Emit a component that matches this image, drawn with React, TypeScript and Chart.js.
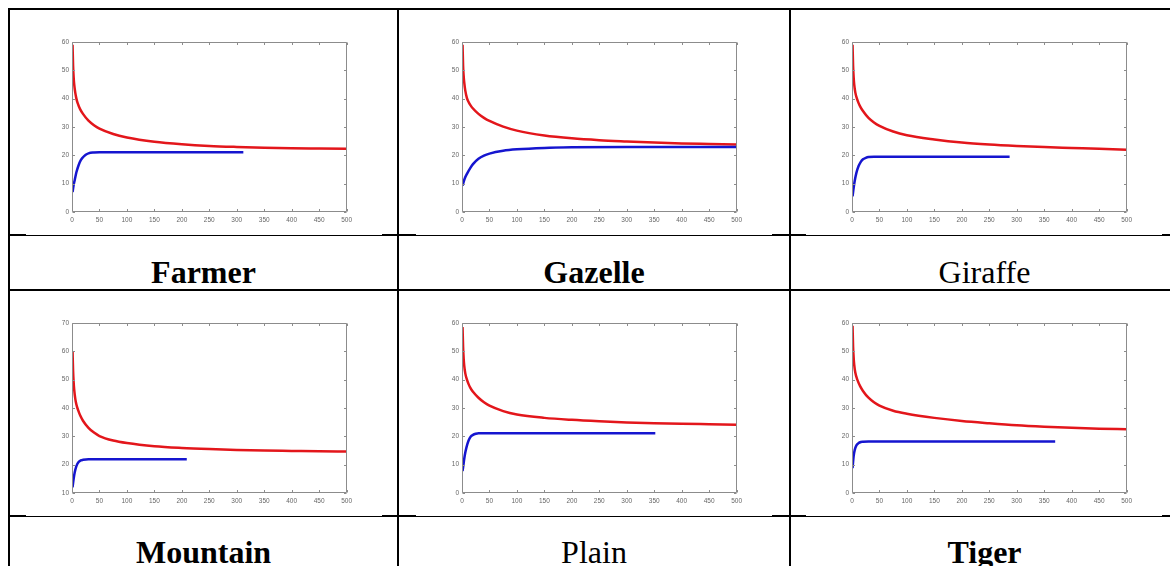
import React, { useEffect, useRef } from 'react';
import { Chart, registerables } from 'chart.js';

Chart.register(...registerables);

type Pt = [number, number];

// ---- tick values ----
const xTicks = [0, 50, 100, 150, 200, 250, 300, 350, 400, 450, 500];
const yTicks60 = [0, 10, 20, 30, 40, 50, 60];
const yTicks70 = [10, 20, 30, 40, 50, 60, 70];

// ---- series (x, y) ----
const farmerRed: Pt[] = [[1, 59], [2, 51.5], [3, 47.5], [4, 45], [6, 42], [8, 40], [10, 38.6], [15, 36.2], [20, 34.6], [30, 32.2], [40, 30.6], [50, 29.4], [75, 27.5], [100, 26.3], [150, 24.8], [200, 23.9], [250, 23.3], [300, 22.95], [350, 22.7], [400, 22.5], [450, 22.4], [500, 22.3]];
const farmerBlue: Pt[] = [[1, 7], [3, 9.5], [5, 11.3], [8, 14], [12, 16.5], [16, 18.3], [20, 19.3], [25, 20.2], [30, 20.7], [40, 21.0], [50, 21.1], [100, 21.1], [200, 21.1], [312, 21.1]];

const gazelleRed: Pt[] = [[1, 59], [2, 51.5], [3, 48], [4, 45.8], [6, 42.8], [9, 40.2], [12, 38.8], [15, 37.8], [20, 36.5], [30, 34.6], [40, 33.2], [50, 32.1], [75, 30.1], [100, 28.7], [150, 27.0], [200, 26.0], [250, 25.35], [300, 24.9], [350, 24.5], [400, 24.2], [450, 24.0], [500, 23.8]];
const gazelleBlue: Pt[] = [[1, 9.3], [5, 11.8], [10, 13.8], [15, 15.5], [20, 16.9], [30, 18.8], [40, 19.9], [50, 20.6], [75, 21.6], [100, 22.1], [150, 22.6], [200, 22.8], [300, 22.9], [400, 22.9], [500, 22.9]];

const giraffeRed: Pt[] = [[1, 59], [2, 51.5], [3, 47.5], [4, 45], [6, 42.2], [9, 40], [12, 38.4], [15, 37.2], [20, 35.6], [30, 33.2], [40, 31.6], [50, 30.4], [75, 28.4], [100, 27.1], [150, 25.6], [200, 24.5], [250, 23.8], [300, 23.3], [350, 22.9], [400, 22.6], [450, 22.3], [500, 22.0]];
const giraffeBlue: Pt[] = [[1, 5.5], [3, 8.5], [5, 11], [8, 13.8], [12, 16.2], [16, 17.7], [20, 18.6], [25, 19.1], [30, 19.4], [40, 19.5], [287, 19.5]];

const mountainRed: Pt[] = [[1, 60], [2, 53], [3, 49], [4, 46.5], [6, 43.2], [8, 41.2], [11, 39.3], [15, 37.3], [20, 35.5], [30, 33.0], [40, 31.3], [50, 30.1], [75, 28.5], [100, 27.6], [150, 26.5], [200, 25.9], [250, 25.5], [300, 25.2], [350, 25.0], [400, 24.85], [450, 24.7], [500, 24.6]];
const mountainBlue: Pt[] = [[1, 12], [3, 15], [5, 17.3], [8, 19.5], [12, 20.9], [16, 21.5], [20, 21.7], [30, 21.9], [209, 21.9]];

const plainRed: Pt[] = [[1, 58.5], [2, 51.5], [3, 47.5], [4, 45], [6, 42.2], [9, 40], [12, 38.4], [15, 37.2], [20, 35.7], [30, 33.6], [40, 32.0], [50, 30.8], [75, 28.9], [100, 27.7], [150, 26.5], [200, 25.8], [250, 25.3], [300, 24.9], [350, 24.6], [400, 24.4], [450, 24.25], [500, 24.1]];
const plainBlue: Pt[] = [[1, 7.7], [3, 10.5], [5, 13.2], [8, 16], [12, 18.5], [16, 19.9], [20, 20.5], [25, 20.9], [30, 21.1], [352, 21.1]];

const tigerRed: Pt[] = [[1, 59], [2, 51.5], [3, 47.8], [4, 45.3], [6, 42.5], [10, 39.8], [15, 37.6], [20, 36.0], [30, 33.6], [40, 32.0], [50, 30.8], [75, 29.0], [100, 27.95], [150, 26.5], [200, 25.4], [250, 24.6], [300, 23.9], [350, 23.4], [400, 23.0], [450, 22.7], [500, 22.5]];
const tigerBlue: Pt[] = [[1, 8.8], [3, 13], [5, 15.2], [8, 16.8], [12, 17.6], [16, 18], [20, 18.1], [30, 18.2], [370, 18.2]];

const panelNames = ['Farmer', 'Gazelle', 'Giraffe', 'Mountain', 'Plain', 'Tiger'];
const panelBold = [true, true, false, true, false, true];

// ---- styling / layout ----
const RED = '#e3161b';
const BLUE = '#1515cf';
const BOX = '#8c8c8c';
const TICK_TEXT = '#666666';
const SANS = '"Liberation Sans", Arial, sans-serif';

const Y_AXIS_W = 20;
const X_AXIS_H = 16;
const PAD_TOP = 6;
const PAD_RIGHT = 8;
const PLOT_W = 276;
const PLOT_H = 171;
const CANVAS_W = Y_AXIS_W + PLOT_W + PAD_RIGHT;
const CANVAS_H = PAD_TOP + PLOT_H + X_AXIS_H;

const colPlotLeft = [72, 462, 852];
const rowPlotTop = [41, 322];
const colCenter = [203.5, 594, 984.5];
const labelTop = [256, 536];

const boxPlugin = {
  id: 'matlabBox',
  afterDraw(chart: any) {
    const { ctx, chartArea: a, scales } = chart;
    const L = Math.round(a.left) + 0.5;
    const R = Math.round(a.right) - 0.5;
    const T = Math.round(a.top) + 0.5;
    const B = Math.round(a.bottom) - 0.5;
    ctx.save();
    ctx.strokeStyle = BOX;
    ctx.lineWidth = 1;
    ctx.beginPath();
    ctx.rect(L, T, R - L, B - T);
    const tl = 2.5;
    scales.x.ticks.forEach((t: any) => {
      const px = Math.round(scales.x.getPixelForValue(t.value)) + 0.5;
      ctx.moveTo(px, B);
      ctx.lineTo(px, B - tl);
      ctx.moveTo(px, T);
      ctx.lineTo(px, T + tl);
    });
    scales.y.ticks.forEach((t: any) => {
      const py = Math.round(scales.y.getPixelForValue(t.value)) + 0.5;
      ctx.moveTo(L, py);
      ctx.lineTo(L + tl, py);
      ctx.moveTo(R, py);
      ctx.lineTo(R - tl, py);
    });
    ctx.stroke();
    ctx.restore();
  },
};

type PanelProps = {
  red: Pt[];
  blue: Pt[];
  yTicks: number[];
  left: number;
  top: number;
};

function Panel({ red, blue, yTicks, left, top }: PanelProps) {
  const ref = useRef<HTMLCanvasElement | null>(null);
  useEffect(() => {
    if (!ref.current) return;
    const tickFont = { size: 6.5, family: SANS };
    const chart = new Chart(ref.current, {
      type: 'line',
      data: {
        datasets: [
          {
            data: blue.map(([x, y]) => ({ x, y })),
            borderColor: BLUE,
            borderWidth: 2.5,
            pointRadius: 0,
            cubicInterpolationMode: 'monotone',
            fill: false,
          },
          {
            data: red.map(([x, y]) => ({ x, y })),
            borderColor: RED,
            borderWidth: 2.5,
            pointRadius: 0,
            cubicInterpolationMode: 'monotone',
            fill: false,
          },
        ],
      },
      options: {
        animation: false,
        responsive: false,
        events: [],
        layout: { padding: { left: 0, right: PAD_RIGHT, top: PAD_TOP, bottom: 0 } },
        plugins: { legend: { display: false }, tooltip: { enabled: false } },
        scales: {
          x: {
            type: 'linear',
            min: xTicks[0],
            max: xTicks[xTicks.length - 1],
            grid: { display: false, drawTicks: false },
            border: { display: false },
            ticks: { autoSkip: false, maxRotation: 0, padding: 4, font: tickFont, color: TICK_TEXT },
            afterBuildTicks: (s: any) => {
              s.ticks = xTicks.map((v) => ({ value: v }));
            },
            afterFit: (s: any) => {
              s.height = X_AXIS_H;
            },
          },
          y: {
            type: 'linear',
            min: yTicks[0],
            max: yTicks[yTicks.length - 1],
            grid: { display: false, drawTicks: false },
            border: { display: false },
            ticks: { autoSkip: false, padding: 3, font: tickFont, color: TICK_TEXT },
            afterBuildTicks: (s: any) => {
              s.ticks = yTicks.map((v) => ({ value: v }));
            },
            afterFit: (s: any) => {
              s.width = Y_AXIS_W;
            },
          },
        },
      } as any,
      plugins: [boxPlugin],
    });
    return () => chart.destroy();
  }, [red, blue, yTicks]);
  return (
    <canvas
      ref={ref}
      width={CANVAS_W}
      height={CANVAS_H}
      style={{ position: 'absolute', left: left - Y_AXIS_W, top: top - PAD_TOP, width: CANVAS_W, height: CANVAS_H }}
    />
  );
}

const panelData: { red: Pt[]; blue: Pt[]; yTicks: number[] }[] = [
  { red: farmerRed, blue: farmerBlue, yTicks: yTicks60 },
  { red: gazelleRed, blue: gazelleBlue, yTicks: yTicks60 },
  { red: giraffeRed, blue: giraffeBlue, yTicks: yTicks60 },
  { red: mountainRed, blue: mountainBlue, yTicks: yTicks70 },
  { red: plainRed, blue: plainBlue, yTicks: yTicks60 },
  { red: tigerRed, blue: tigerBlue, yTicks: yTicks60 },
];

function Line({ l, t, w, h }: { l: number; t: number; w: number; h: number }) {
  return <div style={{ position: 'absolute', left: l, top: t, width: w, height: h, background: '#000' }} />;
}

export default function App() {
  const W = 1170;
  const H = 566;
  return (
    <div style={{ position: 'fixed', left: 0, top: 0, width: W, height: H, overflow: 'hidden', background: '#fff' }}>
      {/* outer / cell borders */}
      <Line l={8} t={8} w={W - 8} h={2} />
      <Line l={8} t={8} w={2} h={H - 8} />
      <Line l={397} t={8} w={2} h={H - 8} />
      <Line l={789} t={8} w={2} h={H - 8} />
      <Line l={8} t={289} w={W - 8} h={2} />
      {/* thin separators between chart and label */}
      {[235, 516].map((y) => (
        <React.Fragment key={y}>
          <Line l={8} t={y} w={W - 8} h={1} />
          <Line l={8} t={y - 1} w={18} h={2} />
          <Line l={382} t={y - 1} w={34} h={2} />
          <Line l={772} t={y - 1} w={34} h={2} />
          <Line l={1162} t={y - 1} w={8} h={2} />
        </React.Fragment>
      ))}
      {panelData.map((p, i) => (
        <Panel
          key={panelNames[i]}
          red={p.red}
          blue={p.blue}
          yTicks={p.yTicks}
          left={colPlotLeft[i % 3]}
          top={rowPlotTop[Math.floor(i / 3)]}
        />
      ))}
      {panelNames.map((name, i) => (
        <div
          key={name}
          style={{
            position: 'absolute',
            left: colCenter[i % 3] - 190,
            width: 380,
            top: labelTop[Math.floor(i / 3)],
            textAlign: 'center',
            fontFamily: '"Liberation Serif", "Times New Roman", serif',
            fontSize: 32,
            lineHeight: '32px',
            fontWeight: panelBold[i] ? 700 : 400,
            color: '#000',
            whiteSpace: 'nowrap',
          }}
        >
          {name}
        </div>
      ))}
    </div>
  );
}
